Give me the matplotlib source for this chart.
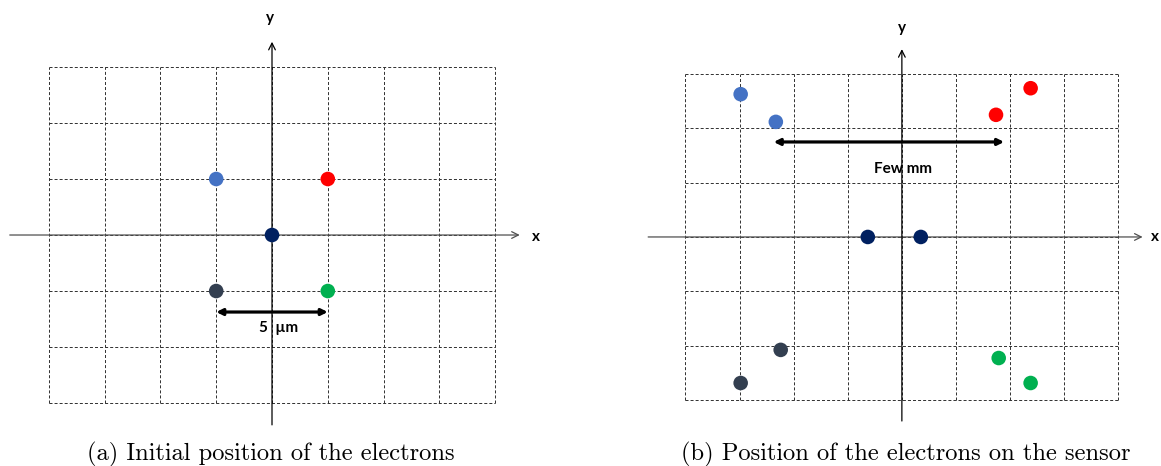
import matplotlib
matplotlib.use('Agg')
import matplotlib.pyplot as plt

W, H, DPI = 1161, 466, 100

BLUE, RED, NAVY, SLATE, GREEN = '#4472C4', '#FF0000', '#002060', '#333F50', '#00B050'

# ---- data (grid units) ----
grid_cols = [-4, -3, -2, -1, 0, 1, 2, 3, 4]
grid_rows = [-3, -2, -1, 0, 1, 2, 3]

a_x = [-1, 1, 0, -1, 1]
a_y = [1, 1, 0, -1, -1]
a_colors = [BLUE, RED, NAVY, SLATE, GREEN]

b_x = [-2.98, -2.33, 2.38, 1.74, -0.63, 0.35, -2.24, -2.98, 1.79, 2.38]
b_y = [2.63, 2.12, 2.74, 2.25, 0.0, 0.0, -2.08, -2.69, -2.23, -2.69]
b_colors = [BLUE, BLUE, RED, RED, NAVY, NAVY, SLATE, SLATE, GREEN, GREEN]

a_label = '5  µm'
b_label = 'Few mm'
a_caption = '(a) Initial position of the electrons'
b_caption = '(b) Position of the electrons on the sensor'

fig = plt.figure(figsize=(W / DPI, H / DPI), dpi=DPI)

ax_a = fig.add_axes([0, 26 / H, 580 / W, 440 / H])
ax_b = fig.add_axes([580 / W, 26 / H, 581 / W, 440 / H])
ax_a.set_xlim(-4.875, 5.52)
ax_a.set_ylim(-3.66, 4.196)
ax_b.set_xlim(-5.95, 4.79)
ax_b.set_ylim(-3.74, 4.365)

LABEL_FONT = dict(family=['Lato', 'DejaVu Sans'], fontweight='bold', fontsize=11)
DASH = (0, (3.1, 2.1))


def draw_panel(ax, xs, ys, cols, xaxis, yaxis, arrow, arrow_y, label_xy, label, xlab_xy, xlab_ha, ylab_xy):
    ax.axis('off')
    y0, y1 = grid_rows[0], grid_rows[-1]
    x0, x1 = grid_cols[0], grid_cols[-1]
    for gx in grid_cols:
        ax.plot([gx, gx], [y0, y1], color='#303030', lw=0.7, ls=DASH, zorder=1)
    for gy in grid_rows:
        ax.plot([x0, x1], [gy, gy], color='#303030', lw=0.7, ls=DASH, zorder=1)
    # axes with open arrows
    ax.annotate('', xy=(xaxis[1], 0), xytext=(xaxis[0], 0),
                arrowprops=dict(arrowstyle='->', lw=0.9, color='#505050', shrinkA=0, shrinkB=0,
                                mutation_scale=12), zorder=2, annotation_clip=False)
    ax.annotate('', xy=(0, yaxis[1]), xytext=(0, yaxis[0]),
                arrowprops=dict(arrowstyle='->', lw=0.9, color='black', shrinkA=0, shrinkB=0,
                                mutation_scale=12), zorder=2, annotation_clip=False)
    # dimension arrow
    ax.annotate('', xy=(arrow[1], arrow_y), xytext=(arrow[0], arrow_y),
                arrowprops=dict(arrowstyle='<|-|>', lw=2.3, color='black', shrinkA=0, shrinkB=0,
                                mutation_scale=9), zorder=3)
    ax.text(label_xy[0], label_xy[1], label, ha='center', va='center', zorder=4, **LABEL_FONT)
    ax.text(xlab_xy[0], xlab_xy[1], 'x', ha=xlab_ha, va='center', clip_on=False, **LABEL_FONT)
    ax.text(ylab_xy[0], ylab_xy[1], 'y', ha='center', va='center', clip_on=False, **LABEL_FONT)
    ax.scatter(xs, ys, s=110, c=cols, zorder=5, linewidths=0)


draw_panel(ax_a, a_x, a_y, a_colors, (-4.7, 4.44), (-3.39, 3.45), (-1, 1), -1.375,
           (0.12, -1.66), a_label, (4.66, -0.04), 'left', (-0.03, 3.87))
draw_panel(ax_b, b_x, b_y, b_colors, (-4.69, 4.45), (-3.39, 3.46), (-2.37, 1.89), 1.75,
           (0.02, 1.25), b_label, (4.76, 0.0), 'right', (0.0, 3.85))

CAP_FONT = dict(family=['cmr10', 'DejaVu Serif'], fontsize=17.6)
fig.text(271 / W, 1 - 454 / H, a_caption, ha='center', va='center', **CAP_FONT)
fig.text(906 / W, 1 - 454 / H, b_caption, ha='center', va='center', **CAP_FONT)

fig.savefig('out.png', dpi=DPI)
